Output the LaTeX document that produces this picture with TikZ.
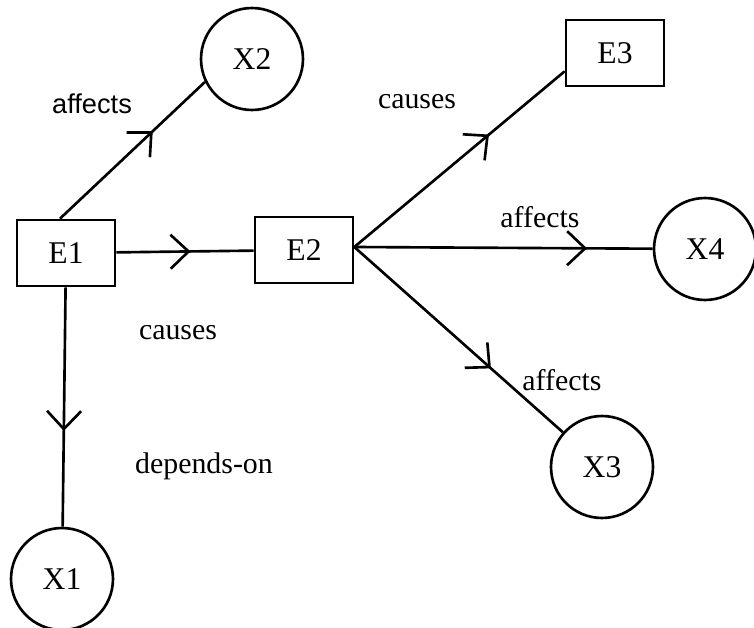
\documentclass[tikz,border=0pt]{standalone}
\usepackage{fontspec}
\setmainfont{Liberation Serif}
\newfontfamily\labelsans{Liberation Sans}
\usetikzlibrary{shapes,arrows.meta,decorations.markings,calc}

\begin{document}
\begin{tikzpicture}[x=0.02cm,y=-0.02cm,line width=1.5pt,
  event/.style={draw,rectangle,minimum width=1.96cm,minimum height=1.32cm,font=\fontsize{18}{20}\selectfont},
  entity/.style={draw,circle,minimum size=2.04cm,inner sep=0pt,font=\fontsize{18}{20}\selectfont},
  rel/.style={font=\fontsize{17}{19}\selectfont},
  midarrow/.style={postaction={decorate},decoration={markings,
      mark=at position #1 with {\arrow{Straight Barb[length=0.36cm,width=0.68cm,line width=1.5pt]}}}}]
\useasboundingbox (0,0) rectangle (754,628);
  \node[event] (E1) at (66,253) {E1};
  \node[event] (E2) at (304,250) {E2};
  \node[event] (E3) at (615,53) {E3};
  \node[entity] (X2) at (252,59) {X2};
  \node[entity] (X4) at (705,249) {X4};
  \node[entity] (X3) at (602,467) {X3};
  \node[entity] (X1) at (62,579) {X1};
  \coordinate (hub) at ($(E2.east)+(0,-3)$);
  \draw[midarrow=0.64] (E1.100) -- (X2.206);
  \draw[midarrow=0.54] (E1) -- (E2);
  \draw[midarrow=0.6] (E1) -- (X1);
  \draw[midarrow=0.64] (hub) -- (E3.200);
  \draw[midarrow=0.78] (hub) -- (X4);
  \draw[midarrow=0.655] (hub) -- (X3);
  \node[font=\labelsans\fontsize{15.5}{18}\selectfont] (l1) at (92,104) {affects};
  \node[rel] (l2) at (417,102) {causes};
  \node[rel] (l3) at (178,333) {causes};
  \node[rel] (l4) at (204,466) {depends-on};
  \node[rel] (l5) at (540,217) {affects};
  \node[rel] (l6) at (562,380) {affects};
\end{tikzpicture}
\end{document}
